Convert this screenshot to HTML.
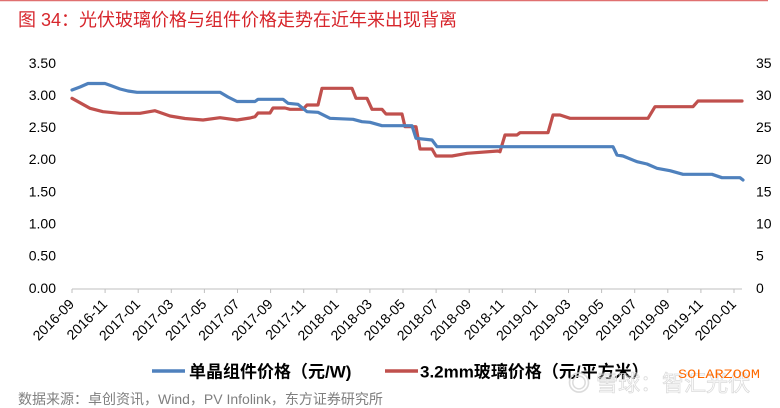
<!DOCTYPE html>
<html>
<head>
<meta charset="utf-8">
<style>
  html,body{margin:0;padding:0;background:#fff;}
  body{width:780px;height:408px;overflow:hidden;position:relative;}
  svg{display:block;}
  .t{font-family:"Liberation Sans","Noto Sans CJK SC",sans-serif;}
</style>
</head>
<body>
<svg width="780" height="408" viewBox="0 0 780 408" xmlns="http://www.w3.org/2000/svg">
  <!-- top rule -->
  <line x1="0" y1="0.5" x2="768" y2="0.5" stroke="#e07070" stroke-width="1.5"/>
  <!-- title -->
  <text class="t" x="18" y="26" font-size="18" fill="#d7262c">图 34：光伏玻璃价格与组件价格走势在近年来出现背离</text>

  <!-- left axis labels -->
  <g class="t" font-size="14" fill="#000" text-anchor="end">
    <text x="56" y="68">3.50</text>
    <text x="56" y="100">3.00</text>
    <text x="56" y="132">2.50</text>
    <text x="56" y="164">2.00</text>
    <text x="56" y="196.5">1.50</text>
    <text x="56" y="228.5">1.00</text>
    <text x="56" y="260.5">0.50</text>
    <text x="56" y="293">0.00</text>
  </g>
  <!-- right axis labels -->
  <g class="t" font-size="14" fill="#000" text-anchor="start">
    <text x="756" y="68">35</text>
    <text x="756" y="100">30</text>
    <text x="756" y="132">25</text>
    <text x="756" y="164">20</text>
    <text x="756" y="196.5">15</text>
    <text x="756" y="228.5">10</text>
    <text x="756" y="260.5">5</text>
    <text x="756" y="293">0</text>
  </g>

  <!-- x axis -->
  <line x1="72" y1="289" x2="742" y2="289" stroke="#bfbfbf" stroke-width="1"/>
  <g stroke="#bfbfbf" stroke-width="1">
    <line x1="72" y1="289" x2="72" y2="293"/>
    <line x1="105.1" y1="289" x2="105.1" y2="293"/>
    <line x1="138.2" y1="289" x2="138.2" y2="293"/>
    <line x1="171.3" y1="289" x2="171.3" y2="293"/>
    <line x1="204.4" y1="289" x2="204.4" y2="293"/>
    <line x1="237.5" y1="289" x2="237.5" y2="293"/>
    <line x1="270.6" y1="289" x2="270.6" y2="293"/>
    <line x1="303.7" y1="289" x2="303.7" y2="293"/>
    <line x1="336.8" y1="289" x2="336.8" y2="293"/>
    <line x1="369.9" y1="289" x2="369.9" y2="293"/>
    <line x1="403" y1="289" x2="403" y2="293"/>
    <line x1="436.1" y1="289" x2="436.1" y2="293"/>
    <line x1="469.2" y1="289" x2="469.2" y2="293"/>
    <line x1="502.3" y1="289" x2="502.3" y2="293"/>
    <line x1="535.4" y1="289" x2="535.4" y2="293"/>
    <line x1="568.5" y1="289" x2="568.5" y2="293"/>
    <line x1="601.6" y1="289" x2="601.6" y2="293"/>
    <line x1="634.7" y1="289" x2="634.7" y2="293"/>
    <line x1="667.8" y1="289" x2="667.8" y2="293"/>
    <line x1="700.9" y1="289" x2="700.9" y2="293"/>
    <line x1="734" y1="289" x2="734" y2="293"/>
  </g>
  <g class="t" font-size="14" fill="#000" text-anchor="end">
    <text x="75" y="305" transform="rotate(-45 75 305)">2016-09</text>
    <text x="108.1" y="305" transform="rotate(-45 108.1 305)">2016-11</text>
    <text x="141.2" y="305" transform="rotate(-45 141.2 305)">2017-01</text>
    <text x="174.3" y="305" transform="rotate(-45 174.3 305)">2017-03</text>
    <text x="207.4" y="305" transform="rotate(-45 207.4 305)">2017-05</text>
    <text x="240.5" y="305" transform="rotate(-45 240.5 305)">2017-07</text>
    <text x="273.6" y="305" transform="rotate(-45 273.6 305)">2017-09</text>
    <text x="306.7" y="305" transform="rotate(-45 306.7 305)">2017-11</text>
    <text x="339.8" y="305" transform="rotate(-45 339.8 305)">2018-01</text>
    <text x="372.9" y="305" transform="rotate(-45 372.9 305)">2018-03</text>
    <text x="406" y="305" transform="rotate(-45 406 305)">2018-05</text>
    <text x="439.1" y="305" transform="rotate(-45 439.1 305)">2018-07</text>
    <text x="472.2" y="305" transform="rotate(-45 472.2 305)">2018-09</text>
    <text x="505.3" y="305" transform="rotate(-45 505.3 305)">2018-11</text>
    <text x="538.4" y="305" transform="rotate(-45 538.4 305)">2019-01</text>
    <text x="571.5" y="305" transform="rotate(-45 571.5 305)">2019-03</text>
    <text x="604.6" y="305" transform="rotate(-45 604.6 305)">2019-05</text>
    <text x="637.7" y="305" transform="rotate(-45 637.7 305)">2019-07</text>
    <text x="670.8" y="305" transform="rotate(-45 670.8 305)">2019-09</text>
    <text x="703.9" y="305" transform="rotate(-45 703.9 305)">2019-11</text>
    <text x="737" y="305" transform="rotate(-45 737 305)">2020-01</text>
  </g>

  <!-- red series: glass price (right axis) -->
  <polyline fill="none" stroke="#c0504d" stroke-width="3.2" stroke-linejoin="round" stroke-linecap="round"
    points="72,98.3 90,108.3 103,111.7 120,113.3 140,113.3 155,110.7 170,116 185,118.5 203,120 220,117.7 237,120 250,118 255,116.7 258,113 270,113 273,108 285,108 290,109.3 303,109.3 307,105 318,105 322,88.3 352,88.3 356,98.3 367,98.3 372,109.3 382,109.3 386,114 402,114 405,126.7 416,126.7 420,149 432,149 436,156 452,156 467,153.3 498,151 500,151.7 505,135 517,135 520,132.7 548,132.7 553,115 560,115 570,118.3 648,118.3 655,106.7 693,106.7 698,101 742,101"/>

  <!-- blue series: module price (left axis) -->
  <polyline fill="none" stroke="#4f81bd" stroke-width="3.2" stroke-linejoin="round" stroke-linecap="round"
    points="72,90 80,87 88,83.5 105,83.5 112,86 120,89 128,91 137,92.3 220,92.3 228,97 237,101.5 255,101.5 258,99.3 283,99.3 288,103.3 298,104.3 307,111.7 318,112.3 330,118.3 353,119.3 362,121.7 370,122.3 382,125.7 412,125.7 416,138.3 432,140 437,146.7 613,146.7 617,155 623,156 637,161.7 647,164 657,168.3 670,170.7 683,174.3 712,174.3 722,177.7 740,177.7 743,180"/>

  <!-- legend -->
  <line x1="152" y1="371" x2="185" y2="371" stroke="#4f81bd" stroke-width="3.5"/>
  <text class="t" x="189" y="377.5" font-size="17" font-weight="bold" fill="#000">单晶组件价格（元/W)</text>
  <line x1="385" y1="371" x2="418" y2="371" stroke="#c0504d" stroke-width="3.5"/>
  <text class="t" x="420" y="377.5" font-size="17" font-weight="bold" fill="#000">3.2mm玻璃价格（元/平方米）</text>

  <!-- watermark -->
  <text class="t" x="568" y="391" font-size="22" fill="none" stroke="#d8d8d8" stroke-width="0.8" opacity="0.9">◎ 雪球：智汇光伏</text>
  <text x="678" y="378" font-size="13" fill="#ff6a00" font-family="Liberation Mono, monospace" textLength="82" lengthAdjust="spacingAndGlyphs">SOLARZOOM</text>

  <!-- source -->
  <text class="t" x="18" y="404" font-size="14" fill="#7f7f7f">数据来源：卓创资讯，Wind，PV Infolink，东方证券研究所</text>
</svg>
</body>
</html>
